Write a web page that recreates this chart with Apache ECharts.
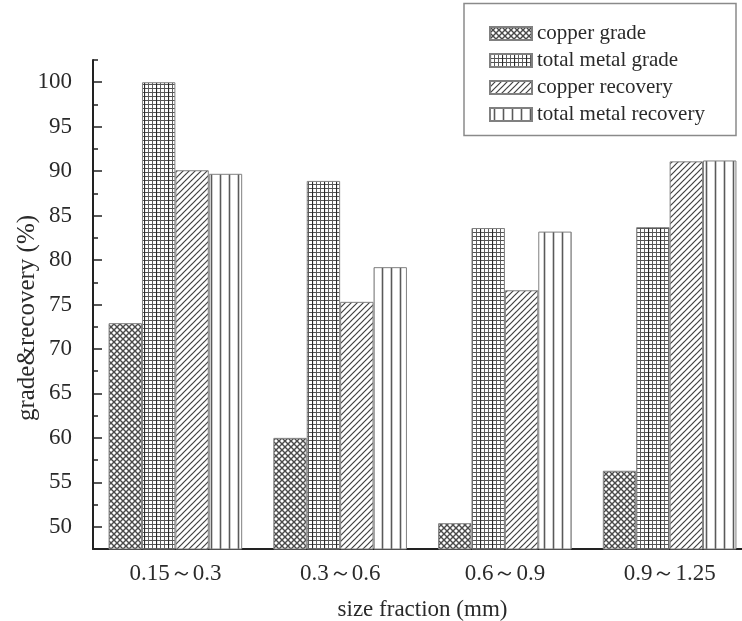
<!DOCTYPE html>
<html>
<head>
<meta charset="utf-8">
<script src="https://cdn.jsdelivr.net/npm/echarts@6/dist/echarts.min.js"></script>
<style>
html,body{margin:0;padding:0;background:#fff;}
#chart{width:742px;height:621px;}
</style>
</head>
<body>
<div id="chart"></div>
<script>
// ---- data ----
const categories = ['0.15～0.3', '0.3～0.6', '0.6～0.9', '0.9～1.25'];
const seriesNames = ['copper grade', 'total metal grade', 'copper recovery', 'total metal recovery'];
const copperGrade = [72.9, 60.0, 50.4, 56.3];
const totalMetalGrade = [100.0, 88.9, 83.6, 83.7];
const copperRecovery = [90.1, 75.3, 76.6, 91.1];
const totalMetalRecovery = [89.7, 79.2, 83.2, 91.2];
const yMajorTicks = [50, 55, 60, 65, 70, 75, 80, 85, 90, 95, 100];
const yMinorTicks = [52.5, 57.5, 62.5, 67.5, 72.5, 77.5, 82.5, 87.5, 92.5, 97.5, 102.5];
const yMin = 47.5, yMax = 102.5;

// ---- patterns ----
function makePattern(w, h, draw) {
  const c = document.createElement('canvas');
  c.width = w; c.height = h;
  const ctx = c.getContext('2d');
  ctx.fillStyle = '#fff';
  ctx.fillRect(0, 0, w, h);
  draw(ctx, w, h);
  return { image: c, repeat: 'repeat' };
}
function line(ctx, x1, y1, x2, y2, color, lw) {
  ctx.strokeStyle = color; ctx.lineWidth = lw;
  ctx.beginPath(); ctx.moveTo(x1, y1); ctx.lineTo(x2, y2); ctx.stroke();
}
const crossPattern = makePattern(6, 6, (ctx, w, h) => {
  line(ctx, -1, -1, w + 1, h + 1, '#4a4a4a', 1.4);
  line(ctx, -1, h + 1, w + 1, -1, '#4a4a4a', 1.4);
});
const gridPattern = makePattern(12, 12, (ctx, w, h) => {
  [4.5, 8.5].forEach(x => line(ctx, x, 0, x, h, '#5e5e5e', 1));
  [0.5, 4.5, 8.5].forEach(y => line(ctx, 0, y, w, y, '#555', 1));
  line(ctx, 0.5, 0, 0.5, h, '#2a2a2a', 1.2);
});
const diagPattern = makePattern(6, 6, (ctx, w, h) => {
  line(ctx, -1, h + 1, w + 1, -1, '#404040', 1.2);
  line(ctx, -2, 2, 2, -2, '#404040', 1.2);
  line(ctx, w - 2, h + 2, w + 2, h - 2, '#404040', 1.2);
});
const vertPattern = makePattern(9, 4, (ctx, w, h) => {
  line(ctx, 4.5, 0, 4.5, h, '#5a5a5a', 1.6);
});
const patterns = [crossPattern, gridPattern, diagPattern, vertPattern];
const values = [copperGrade, totalMetalGrade, copperRecovery, totalMetalRecovery];

const font = '"Liberation Serif", "Times New Roman", serif';
const textColor = '#2a2a2a';

const chart = echarts.init(document.getElementById('chart'), null, { renderer: 'canvas' });
chart.setOption({
  animation: false,
  backgroundColor: '#fff',
  textStyle: { fontFamily: font },
  grid: { left: 93, top: 60, width: 659, bottom: 72, containLabel: false, outerBoundsMode: 'none' },
  legend: {
    orient: 'vertical',
    left: 484,
    top: 18,
    itemWidth: 42,
    itemHeight: 13,
    itemGap: 6,
    icon: 'rect',
    data: seriesNames,
    textStyle: { fontFamily: font, fontSize: 21, color: textColor, lineHeight: 20 }
  },
  xAxis: {
    type: 'category',
    data: categories,
    boundaryGap: true,
    name: 'size fraction (mm)',
    nameLocation: 'middle',
    nameGap: 49,
    nameTextStyle: { fontFamily: font, fontSize: 23, color: textColor },
    axisLine: { lineStyle: { color: '#222', width: 2 } },
    axisTick: { inside: true, length: 5, lineStyle: { color: '#222', width: 1.5 } },
    axisLabel: { fontFamily: font, fontSize: 23, color: textColor, margin: 13 },
    splitLine: { show: false }
  },
  yAxis: [{
    type: 'value',
    min: yMin, max: yMax,
    position: 'left',
    axisLine: { show: true, lineStyle: { color: '#222', width: 2 } },
    axisTick: { show: true, inside: true, length: 9, customValues: yMajorTicks, lineStyle: { color: '#222', width: 1.5 } },
    axisLabel: { fontFamily: font, fontSize: 23, color: textColor, margin: 21, customValues: yMajorTicks },
    splitLine: { show: false }
  }, {
    type: 'value',
    min: yMin, max: yMax,
    position: 'left',
    offset: 0,
    axisLine: { show: false },
    axisTick: { show: true, inside: true, length: 5, customValues: yMinorTicks, lineStyle: { color: '#222', width: 1.5 } },
    axisLabel: { show: false },
    splitLine: { show: false }
  }],
  graphic: [{
    type: 'rect',
    shape: { x: 464, y: 3.5, width: 272, height: 132 },
    style: { fill: 'none', stroke: '#8a8a8a', lineWidth: 1.5 },
    silent: true
  }, {
    type: 'text',
    x: 27, y: 318,
    rotation: Math.PI / 2,
    style: {
      text: 'grade&recovery (%)',
      fontFamily: font, fontSize: 25, fill: textColor,
      align: 'center', verticalAlign: 'middle'
    },
    silent: true
  }],
  series: seriesNames.map((name, i) => ({
    name: name,
    type: 'bar',
    yAxisIndex: 0,
    data: values[i],
    barGap: '0%',
    barCategoryGap: '18.9%',
    itemStyle: { color: patterns[i], borderColor: '#808080', borderWidth: 1 }
  }))
});
</script>
</body>
</html>
